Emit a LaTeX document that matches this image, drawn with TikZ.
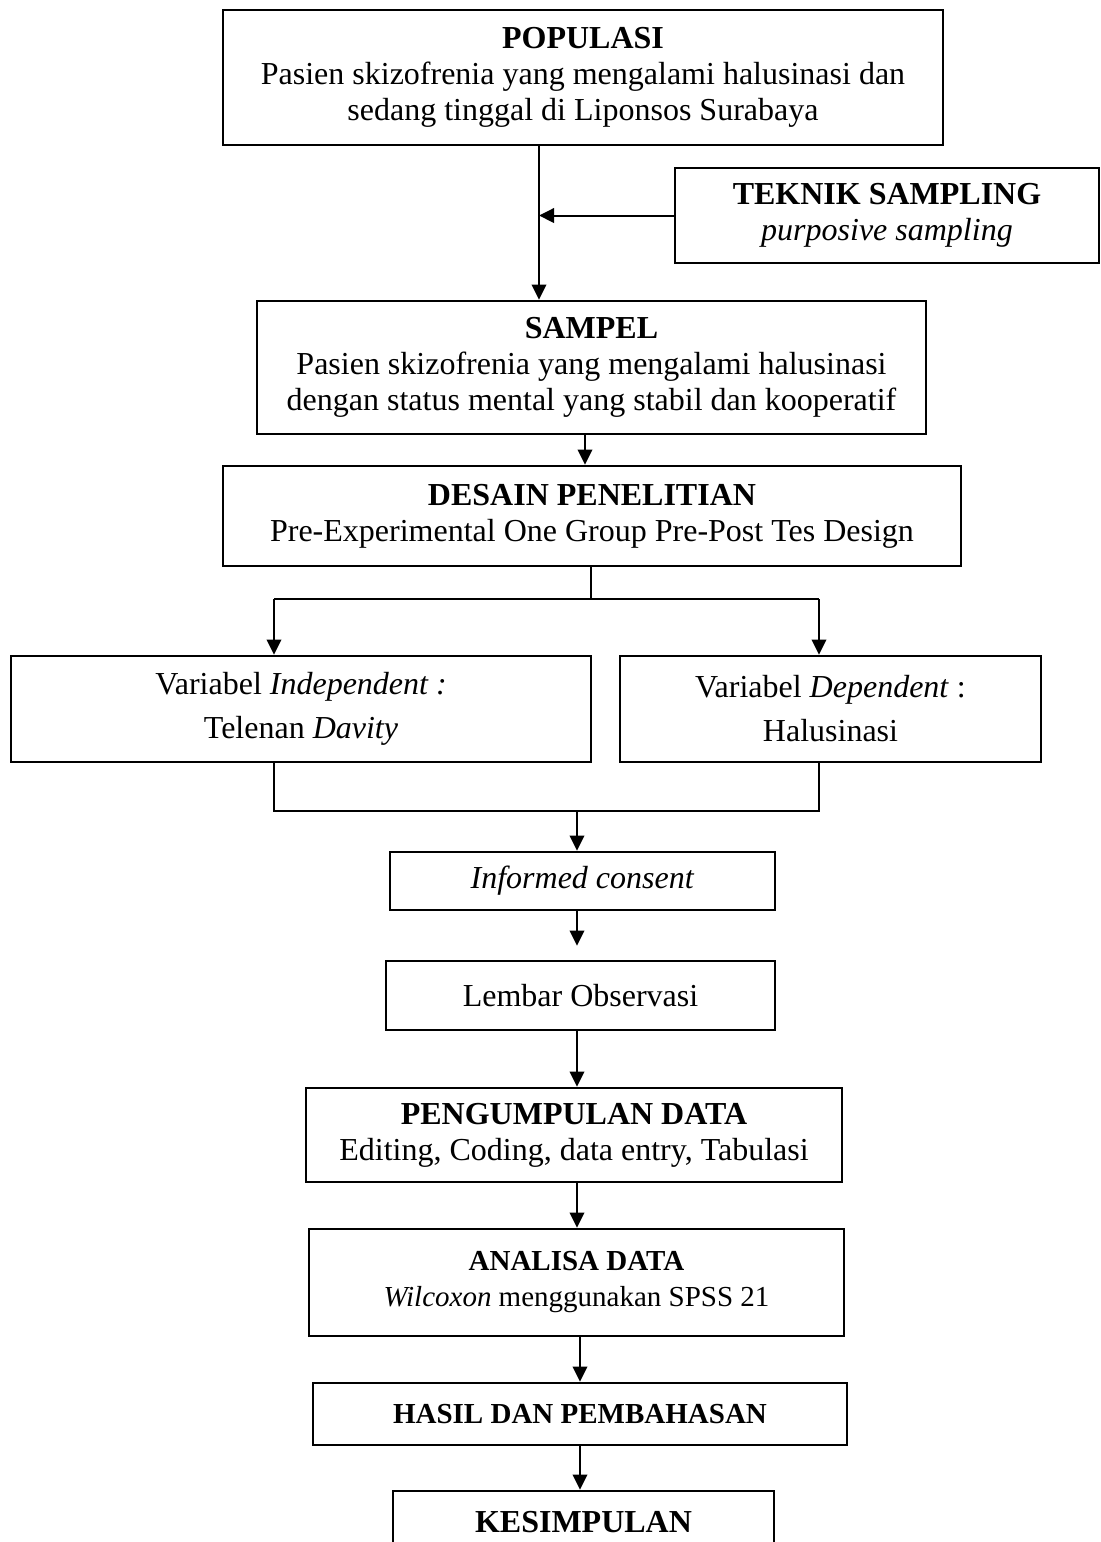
\documentclass[tikz,border=0pt]{standalone}
\usepackage{fontspec}
\setmainfont{Liberation Serif}
\usetikzlibrary{arrows.meta,positioning}

\begin{document}
\begin{tikzpicture}[x=0.4pt,y=-0.4pt,
    box/.style={draw,line width=1.1pt,align=center,inner sep=0pt},
    arr/.style={-{Triangle[length=6pt,width=5.8pt]},line width=0.8pt},
    link/.style={line width=0.8pt}]
  \def\px{0.4pt}
  \useasboundingbox (0,0) rectangle (1101,1542);
  % boxes: name / centre x / centre y / width / height / font size / text
  \foreach \name/\cx/\cy/\w/\h/\fs/\txt in {%
      populasi/583/77.5/720/135/12.8/{\textbf{POPULASI}\\Pasien skizofrenia yang mengalami halusinasi dan\\sedang tinggal di Liponsos Surabaya},
      teknik/887/215.5/424/95/12.8/{\textbf{TEKNIK SAMPLING}\\\textit{purposive sampling}},
      sampel/591.5/367.5/669/133/12.8/{\textbf{SAMPEL}\\Pasien skizofrenia yang mengalami halusinasi\\dengan status mental yang stabil dan kooperatif},
      desain/592/516/738/100/12.8/{\textbf{DESAIN PENELITIAN}\\Pre-Experimental One Group Pre-Post Tes Design},
      indep/301/709/580/106/12.8/{Variabel \textit{Independent :}\\[3.2pt]Telenan \textit{Davity}},
      dep/830.5/709/421/106/12.8/{Variabel \textit{Dependent} :\\[3.2pt]Halusinasi},
      informed/582.5/881/385/58/12.8/{\textit{Informed consent}},
      lembar/580.5/995.5/389/69/12.8/{Lembar Observasi},
      kumpul/574/1135/536/94/12.8/{\textbf{PENGUMPULAN DATA}\\Editing, Coding, data entry, Tabulasi},
      analisa/576.5/1282.5/535/107/11.6/{\textbf{ANALISA DATA}\\\textit{Wilcoxon} menggunakan SPSS 21},
      hasil/580/1414/534/62/11.6/{\textbf{HASIL DAN PEMBAHASAN}},
      simpulan/583.5/1522/381/62/12.8/{\textbf{KESIMPULAN}}}{
    \node[box,font=\fontsize{\fs}{14.4}\selectfont,
          minimum width=\w*\px,minimum height=\h*\px] (\name) at (\cx,\cy) {\txt};
  }
  % sampling branch
  \coordinate (pivot) at (539,215.5);
  \draw[arr] (populasi.south -| pivot) -- (sampel.north -| pivot);
  \draw[arr] (teknik.west) -- (pivot);
  % fork and join
  \coordinate (xa) at (585,0);
  \coordinate (xb) at (591,0);
  \coordinate (xl) at (274,0);
  \coordinate (xr) at (819,0);
  \coordinate (xc) at (577,0);
  \coordinate (fork) at (591,599);
  \coordinate (join) at (577,811);
  \draw[arr] (sampel.south -| xa) -- (desain.north -| xa);
  \draw[line width=0.5pt] (desain.south -| xb) -- (fork);
  \draw[link] (fork -| xl) -- (fork -| xr);
  \draw[arr] (fork -| xl) -- (indep.north -| xl);
  \draw[arr] (fork -| xr) -- (dep.north -| xr);
  \draw[link] (indep.south -| xl) |- (join) -| (dep.south -| xr);
  \draw[arr] (join) -- (informed.north -| join);
  % main chain
  \draw[arr,shorten >=5.6pt] (informed.south -| xc) -- (lembar.north -| xc);
  \draw[arr] (lembar.south -| xc) -- (kumpul.north -| xc);
  \draw[arr] (kumpul.south -| xc) -- (analisa.north -| xc);
  \draw[arr] (analisa.south -| hasil) -- (hasil.north);
  \draw[arr] (hasil.south) -- (simpulan.north -| hasil);
\end{tikzpicture}
\end{document}
